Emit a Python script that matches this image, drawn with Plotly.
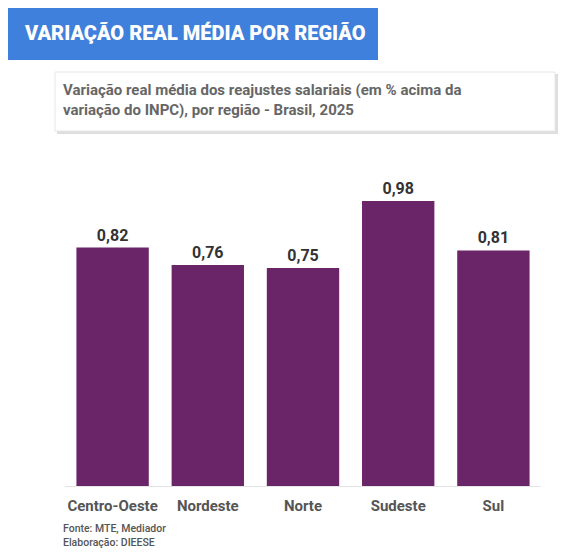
import plotly.graph_objects as go

regioes = ["Centro-Oeste", "Nordeste", "Norte", "Sudeste", "Sul"]
variacao = [0.82, 0.76, 0.75, 0.98, 0.81]
rotulos = ["0,82", "0,76", "0,75", "0,98", "0,81"]

# page body has an 8px margin, so the figure is drawn 8px in from the corner
OFF = 8
W, H = 580 - 2 * OFF, 557 - 2 * OFF


def py(y):
    return 1 - (y - OFF) / H


def px(x):
    return (x - OFF) / W


fig = go.Figure()
fig.add_trace(go.Bar(
    x=regioes, y=variacao, text=rotulos, textposition="outside",
    marker=dict(color="#6a2468", line_width=0),
    textfont=dict(size=16, color="#333", family="Roboto", weight="bold"),
    cliponaxis=False,
))

shapes = [
    dict(type="rect", xref="paper", yref="paper", x0=px(8), x1=px(378), y0=py(60), y1=py(8),
         fillcolor="#3f80dc", line_width=0),
    # shadow + subtitle box
    dict(type="rect", xref="paper", yref="paper", x0=px(57), x1=px(558), y0=py(134), y1=py(74),
         fillcolor="#dedede", line_width=0),
    dict(type="rect", xref="paper", yref="paper", x0=px(55), x1=px(555), y0=py(131), y1=py(72),
         fillcolor="white", line=dict(color="#e6e6e6", width=1)),
]
annotations = [
    dict(text="VARIAÇÃO REAL MÉDIA POR REGIÃO", xref="paper", yref="paper", x=px(22), y=py(33),
         xanchor="left", yanchor="middle", showarrow=False,
         font=dict(size=20, color="white", family="Roboto", weight=900)),
    dict(text="Variação real média dos reajustes salariais (em % acima da<br>variação do INPC), por região - Brasil, 2025",
         xref="paper", yref="paper", x=px(61), y=py(100), xanchor="left", yanchor="middle",
         align="left", showarrow=False,
         font=dict(size=15, color="#666", family="Roboto", weight="bold")),
    dict(text="Fonte: MTE, Mediador<br>Elaboração: DIEESE", xref="paper", yref="paper",
         x=px(61), y=py(535), xanchor="left", yanchor="middle", align="left", showarrow=False,
         font=dict(size=10.5, color="#555", family="Roboto", weight=500)),
]

fig.update_layout(
    width=W, height=H, margin=dict(l=0, r=0, t=0, b=0),
    paper_bgcolor="white", plot_bgcolor="white", showlegend=False,
    bargap=0.24, shapes=shapes, annotations=annotations,
    xaxis=dict(domain=[px(65), px(541)], showline=True, linecolor="#e4e4e4",
               tickfont=dict(size=15, color="#555", family="Roboto", weight="bold"),
               ticks="", ticklabelstandoff=6),
    yaxis=dict(domain=[py(486), py(140)], range=[0, 1.19], visible=False, showgrid=False),
)

fig.write_html("out.html")
